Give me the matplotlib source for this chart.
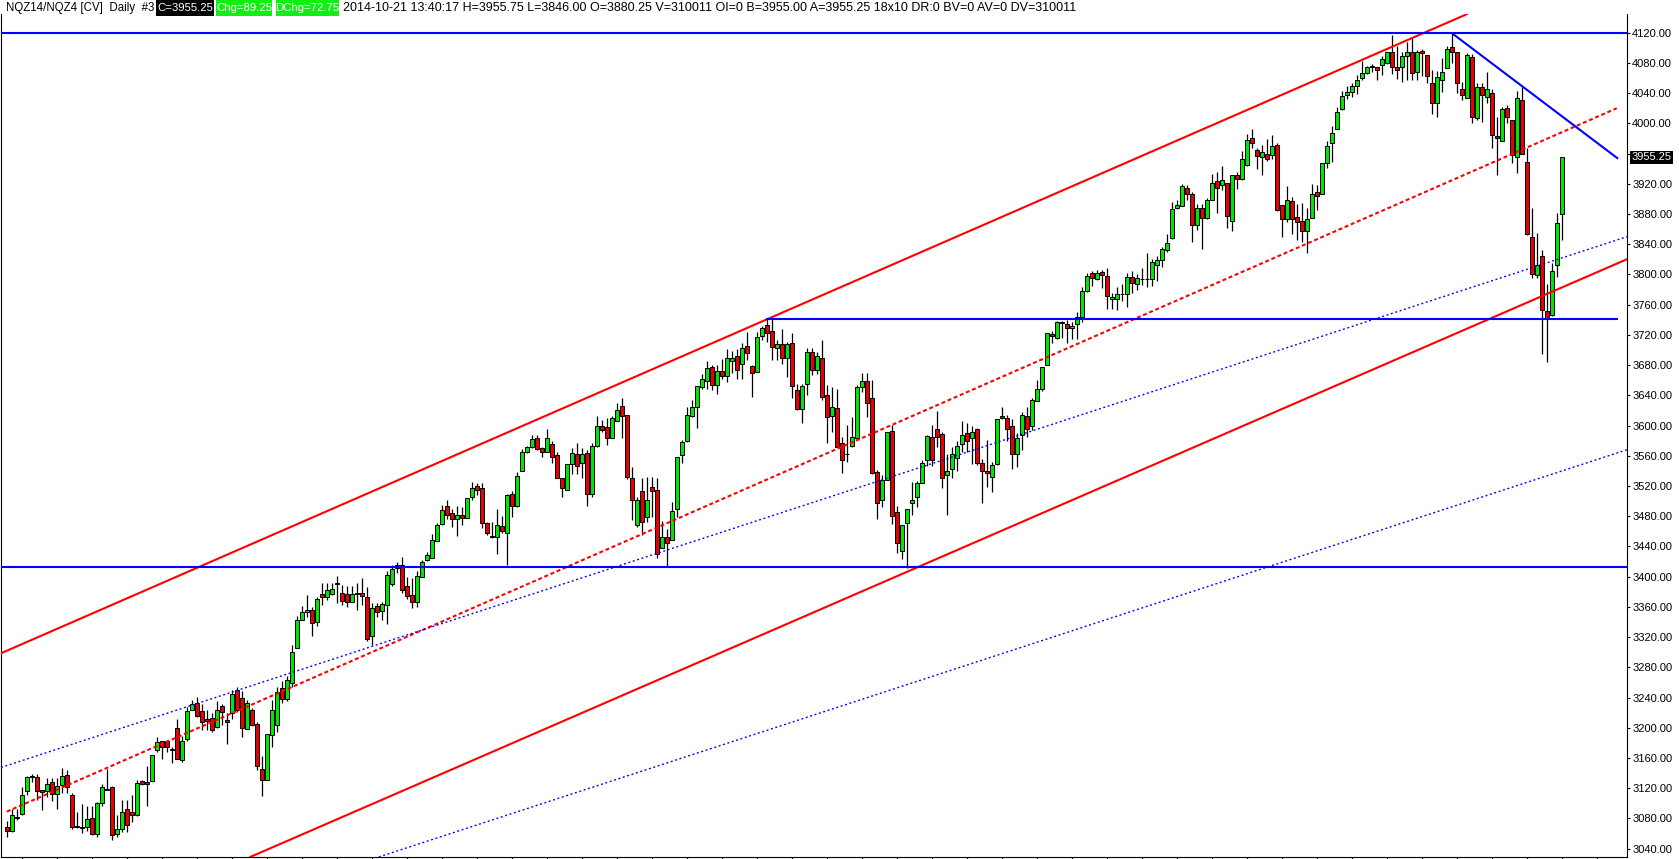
import numpy as np
import matplotlib.pyplot as plt
from matplotlib.patches import Rectangle
from matplotlib.ticker import FixedLocator, FuncFormatter

plt.rcParams['font.family'] = ['Liberation Sans', 'DejaVu Sans']

W, H = 1679, 859

##-----     DAILY BARS     -----
opens = [3069, 3064, 3082, 3086, 3116, 3135, 3135, 3117, 3116, 3128, 3112, 3124, 3137, 3111, 3070, 3069, 3069, 3080, 3060, 3101,
         3119, 3122, 3059, 3066, 3092, 3088, 3085, 3130, 3128, 3130, 3170, 3183, 3182, 3172, 3200, 3157, 3185, 3224, 3233, 3222,
         3211, 3213, 3201, 3229, 3210, 3220, 3250, 3239, 3199, 3224, 3205, 3145, 3131, 3191, 3203, 3252, 3238, 3259, 3306, 3343,
         3353, 3356, 3340, 3377, 3373, 3377, 3391, 3379, 3377, 3367, 3377, 3379, 3373, 3321, 3361, 3354, 3362, 3390, 3411, 3416,
         3388, 3376, 3367, 3400, 3422, 3425, 3447, 3470, 3494, 3484, 3476, 3482, 3477, 3505, 3520, 3517, 3471, 3454, 3453, 3467,
         3458, 3509, 3493, 3540, 3565, 3571, 3584, 3570, 3565, 3576, 3561, 3530, 3515, 3549, 3563, 3550, 3564, 3510, 3573, 3599,
         3598, 3584, 3606, 3626, 3614, 3531, 3468, 3513, 3479, 3519, 3515, 3438, 3452, 3449, 3490, 3561, 3579, 3612, 3624, 3651,
         3659, 3677, 3654, 3672, 3666, 3686, 3692, 3681, 3705, 3679, 3671, 3719, 3733, 3725, 3702, 3708, 3690, 3709, 3647, 3622,
         3655, 3697, 3674, 3690, 3641, 3613, 3623, 3577, 3562, 3573, 3583, 3651, 3659, 3636, 3539, 3502, 3528, 3593, 3485, 3434,
         3471, 3497, 3505, 3524, 3554, 3585, 3596, 3589, 3535, 3542, 3557, 3576, 3590, 3583, 3595, 3551, 3540, 3532, 3549, 3613,
         3610, 3599, 3563, 3588, 3612, 3599, 3633, 3649, 3680, 3721, 3716, 3737, 3735, 3729, 3734, 3744, 3778, 3802, 3794, 3803,
         3798, 3767, 3768, 3774, 3774, 3796, 3787, 3794, 3794, 3794, 3813, 3819, 3833, 3848, 3888, 3891, 3914, 3906, 3865, 3888,
         3875, 3899, 3924, 3918, 3921, 3871, 3932, 3926, 3945, 3980, 3965, 3955, 3960, 3958, 3971, 3892, 3873, 3897, 3876, 3871,
         3857, 3875, 3909, 3907, 3948, 3974, 3993, 4019, 4038, 4042, 4050, 4060, 4066, 4075, 4074, 4077, 4080, 4095, 4074, 4074,
         4089, 4095, 4068, 4096, 4091, 4053, 4027, 4058, 4073, 4101, 4094, 4046, 4033, 4088, 4007, 4048, 4035, 4040, 3983, 3977,
         4020, 4004, 3956, 4031, 3949, 3849, 3799, 3825, 3751, 3746, 3813, 3880.25]
highs = [3076, 3093, 3093, 3122, 3136, 3139, 3139, 3118, 3134, 3134, 3134, 3147, 3144, 3114, 3089, 3099, 3096, 3097, 3102, 3126,
         3145, 3123, 3084, 3105, 3105, 3111, 3131, 3131, 3150, 3164, 3188, 3183, 3184, 3174, 3212, 3189, 3228, 3237, 3241, 3231,
         3224, 3219, 3235, 3232, 3219, 3250, 3254, 3248, 3237, 3226, 3208, 3163, 3192, 3237, 3254, 3262, 3268, 3310, 3348, 3361,
         3376, 3360, 3373, 3392, 3391, 3391, 3401, 3389, 3388, 3388, 3391, 3398, 3386, 3365, 3365, 3366, 3407, 3415, 3420, 3426,
         3400, 3398, 3407, 3422, 3432, 3456, 3471, 3495, 3502, 3490, 3493, 3492, 3504, 3525, 3524, 3524, 3473, 3473, 3490, 3480,
         3510, 3514, 3538, 3569, 3573, 3587, 3588, 3572, 3595, 3579, 3565, 3531, 3549, 3570, 3577, 3570, 3568, 3577, 3612, 3608,
         3610, 3612, 3630, 3636, 3614, 3545, 3506, 3530, 3532, 3532, 3530, 3474, 3463, 3499, 3559, 3581, 3625, 3634, 3652, 3668,
         3686, 3680, 3680, 3688, 3701, 3699, 3701, 3709, 3724, 3680, 3724, 3732, 3741, 3741, 3713, 3728, 3711, 3723, 3655, 3655,
         3702, 3702, 3698, 3713, 3654, 3651, 3648, 3585, 3601, 3611, 3654, 3669, 3669, 3660, 3541, 3535, 3592, 3601, 3493, 3469,
         3490, 3525, 3526, 3554, 3588, 3601, 3619, 3591, 3563, 3571, 3579, 3606, 3604, 3599, 3597, 3556, 3581, 3552, 3609, 3624,
         3614, 3609, 3590, 3618, 3624, 3637, 3660, 3678, 3723, 3725, 3738, 3738, 3740, 3737, 3750, 3784, 3802, 3805, 3806, 3806,
         3808, 3775, 3784, 3787, 3802, 3805, 3800, 3808, 3829, 3821, 3824, 3837, 3853, 3896, 3899, 3920, 3918, 3909, 3893, 3893,
         3901, 3933, 3936, 3944, 3921, 3932, 3936, 3963, 3986, 3993, 3968, 3972, 3979, 3985, 3974, 3892, 3917, 3902, 3893, 3894,
         3888, 3920, 3918, 3948, 3976, 3997, 4021, 4043, 4049, 4053, 4064, 4082, 4076, 4079, 4075, 4089, 4095, 4117, 4102, 4095,
         4108, 4113, 4097, 4099, 4091, 4071, 4069, 4086, 4102, 4119, 4095, 4055, 4093, 4092, 4054, 4053, 4068, 4046, 4009, 4021,
         4024, 4005, 4043, 4048, 3967, 3888, 3855, 3833, 3787, 3815, 3881, 3955.75]
lows = [3056, 3062, 3078, 3085, 3111, 3128, 3104, 3091, 3108, 3103, 3093, 3114, 3114, 3066, 3067, 3061, 3063, 3058, 3055, 3096,
        3118, 3052, 3055, 3062, 3062, 3075, 3083, 3124, 3096, 3130, 3168, 3159, 3168, 3154, 3158, 3155, 3183, 3223, 3214, 3197,
        3197, 3195, 3200, 3203, 3178, 3212, 3221, 3188, 3199, 3202, 3144, 3110, 3131, 3175, 3195, 3233, 3235, 3254, 3306, 3342,
        3347, 3322, 3335, 3362, 3369, 3376, 3365, 3362, 3360, 3366, 3356, 3362, 3315, 3310, 3346, 3343, 3337, 3387, 3405, 3379,
        3371, 3359, 3360, 3400, 3421, 3425, 3447, 3468, 3476, 3466, 3454, 3469, 3477, 3501, 3508, 3464, 3455, 3451, 3430, 3458,
        3415, 3479, 3492, 3540, 3564, 3570, 3568, 3558, 3565, 3550, 3530, 3506, 3515, 3536, 3536, 3530, 3493, 3506, 3572, 3592,
        3574, 3584, 3606, 3583, 3529, 3475, 3466, 3455, 3473, 3479, 3425, 3438, 3413, 3448, 3479, 3551, 3578, 3611, 3597, 3649,
        3648, 3647, 3642, 3662, 3657, 3670, 3662, 3662, 3687, 3638, 3671, 3713, 3711, 3687, 3687, 3682, 3664, 3637, 3621, 3603,
        3641, 3667, 3668, 3634, 3577, 3592, 3571, 3537, 3552, 3572, 3583, 3645, 3611, 3536, 3476, 3492, 3528, 3470, 3431, 3424,
        3412, 3481, 3492, 3524, 3547, 3547, 3572, 3518, 3482, 3531, 3540, 3565, 3565, 3549, 3548, 3498, 3519, 3512, 3548, 3609,
        3580, 3542, 3545, 3568, 3585, 3594, 3632, 3646, 3680, 3709, 3715, 3716, 3709, 3715, 3715, 3737, 3777, 3785, 3793, 3782,
        3754, 3754, 3753, 3765, 3757, 3776, 3780, 3786, 3783, 3785, 3791, 3810, 3830, 3847, 3887, 3891, 3898, 3843, 3859, 3834,
        3873, 3899, 3882, 3912, 3862, 3857, 3913, 3925, 3944, 3967, 3940, 3932, 3950, 3953, 3884, 3850, 3870, 3854, 3845, 3843,
        3829, 3875, 3885, 3906, 3941, 3949, 3993, 4018, 4032, 4035, 4039, 4058, 4065, 4068, 4057, 4064, 4078, 4065, 4059, 4055,
        4057, 4057, 4057, 4063, 4053, 4012, 4008, 4042, 4073, 4080, 4040, 4031, 4033, 4001, 4005, 4002, 4027, 3968, 3932, 3976,
        4000, 3947, 3934, 3960, 3852, 3795, 3795, 3695, 3684, 3745, 3797, 3846.00]
closes = [3063, 3085, 3080, 3111, 3135, 3135, 3116, 3115, 3126, 3112, 3123, 3136, 3122, 3069, 3068, 3067, 3079, 3060, 3100, 3121,
          3118, 3058, 3066, 3088, 3071, 3084, 3127, 3126, 3126, 3164, 3181, 3174, 3174, 3171, 3159, 3183, 3222, 3231, 3215, 3207,
          3209, 3197, 3224, 3221, 3207, 3245, 3224, 3200, 3233, 3203, 3149, 3131, 3192, 3224, 3247, 3238, 3263, 3300, 3342, 3353,
          3356, 3339, 3370, 3373, 3382, 3384, 3390, 3368, 3367, 3377, 3379, 3375, 3318, 3359, 3353, 3364, 3402, 3410, 3416, 3382,
          3375, 3366, 3401, 3419, 3429, 3448, 3468, 3488, 3482, 3476, 3482, 3478, 3504, 3518, 3515, 3471, 3458, 3452, 3469, 3460,
          3508, 3493, 3533, 3565, 3571, 3582, 3569, 3565, 3584, 3559, 3531, 3518, 3549, 3564, 3547, 3562, 3509, 3573, 3599, 3594,
          3584, 3610, 3621, 3613, 3532, 3502, 3501, 3473, 3502, 3514, 3430, 3452, 3445, 3487, 3558, 3578, 3614, 3624, 3652, 3661,
          3676, 3654, 3672, 3665, 3689, 3689, 3674, 3702, 3696, 3670, 3717, 3729, 3722, 3704, 3708, 3689, 3708, 3652, 3622, 3652,
          3697, 3674, 3692, 3638, 3611, 3624, 3572, 3554, 3563, 3585, 3651, 3659, 3630, 3537, 3498, 3528, 3591, 3480, 3444, 3469,
          3490, 3501, 3524, 3551, 3586, 3554, 3585, 3530, 3540, 3563, 3573, 3588, 3579, 3592, 3551, 3540, 3537, 3548, 3609, 3610,
          3596, 3563, 3584, 3614, 3596, 3634, 3648, 3677, 3722, 3718, 3737, 3736, 3729, 3732, 3744, 3778, 3798, 3795, 3802, 3799,
          3772, 3770, 3774, 3774, 3796, 3789, 3795, 3794, 3794, 3816, 3819, 3834, 3842, 3886, 3892, 3917, 3906, 3865, 3888, 3875,
          3899, 3921, 3914, 3925, 3877, 3932, 3927, 3953, 3978, 3974, 3957, 3962, 3953, 3970, 3885, 3874, 3899, 3873, 3870, 3858,
          3874, 3907, 3904, 3947, 3970, 3987, 4015, 4036, 4042, 4049, 4057, 4066, 4074, 4075, 4071, 4085, 4094, 4074, 4071, 4089,
          4095, 4067, 4095, 4093, 4063, 4027, 4061, 4068, 4099, 4095, 4054, 4038, 4091, 4009, 4048, 4038, 4046, 3985, 3980, 4019,
          4009, 3958, 4033, 3960, 3853, 3800, 3813, 3753, 3742, 3805, 3868, 3955.25]

##-----     DRAWN STUDY LINES (bar index, price)     -----
chan_upper_x, chan_upper_y = [-1.26, 291.9], [3298.6, 4144.5]
chan_mid_x, chan_mid_y = [-0.1, 321.9], [3089.0, 4020.0]
chan_lower_x, chan_lower_y = [48.6, 323.94], [3029.0, 3820.2]
dot_upper_x, dot_upper_y = [-1.26, 323.94], [3147.4, 3850.0]
dot_lower_x, dot_lower_y = [74.3, 323.94], [3029.0, 3568.0]
diag_x, diag_y = [289, 322], [4119.0, 3954.0]
hline_top = 4119.0
hline_low = 3413.0
hline_mid, hline_mid_x = 3741.5, [152, 322]

yticks = np.arange(3040, 4121, 40)
last_price = 3955.25

# header pieces: (text, box colour)
hdr_boxes = [('C=3955.25', 'black'), ('Chg=89.25', '#11ee11'), ('DChg=72.75', '#11ee11')]
hdr_box_x = [(156, 214), (216, 272), (276, 339)]

##-----     FIGURE     -----
fig = plt.figure(figsize=(W / 100, H / 100), dpi=100)
ax = fig.add_axes([1 / W, 2 / H, 1626 / W, 843 / H])
ax.set_xlim(-1.26, 323.94)
ax.set_ylim(3028.94, 4144.75)

o = np.array(opens, float)
hi = np.array(highs, float)
lo = np.array(lows, float)
c = np.array(closes, float)
idx = np.arange(len(o))
up = c >= o
body_col = np.where(up, '#00e600', '#e60000')
bottom = np.minimum(o, c)
height = np.maximum(np.abs(c - o), 0.6)

ax.vlines(idx, lo, hi, color='black', lw=0.9, zorder=2)
ax.bar(idx, height, bottom=bottom, width=0.8, color=body_col,
       edgecolor='black', linewidth=0.7, zorder=3)

red, blue = '#ff0000', '#0000ff'
ax.plot(chan_upper_x, chan_upper_y, color=red, lw=1.5, zorder=4)
ax.plot(chan_lower_x, chan_lower_y, color=red, lw=1.5, zorder=4)
ax.plot(chan_mid_x, chan_mid_y, color=red, lw=1.5, dashes=(1.9, 1.3), zorder=4)
ax.plot(dot_upper_x, dot_upper_y, color=blue, lw=1.0, dashes=(1.4, 1.9), zorder=4)
ax.plot(dot_lower_x, dot_lower_y, color=blue, lw=1.0, dashes=(1.4, 1.9), zorder=4)
ax.plot(diag_x, diag_y, color=blue, lw=1.5, zorder=4)
ax.axhline(hline_top, color=blue, lw=1.5, zorder=4)
ax.axhline(hline_low, color=blue, lw=1.5, zorder=4)
ax.plot(hline_mid_x, [hline_mid, hline_mid], color=blue, lw=1.5, zorder=4)

# axes look
ax.spines['top'].set_visible(False)
for s in ('left', 'right', 'bottom'):
    ax.spines[s].set_linewidth(0.8)
ax.yaxis.tick_right()
ax.yaxis.set_major_locator(FixedLocator(yticks))
ax.yaxis.set_major_formatter(FuncFormatter(
    lambda v, p: '' if abs(v - 3960) < 1 else '%.2f' % v))
ax.tick_params(axis='y', direction='out', length=2.2, width=0.8, pad=1.5,
               labelsize=8, colors='black')
ax.xaxis.set_major_locator(FixedLocator(np.arange(3, 325, 7)))
ax.tick_params(axis='x', direction='out', length=1.5, width=0.8, labelbottom=False)

# last price marker on the scale
ax.text(1.0028, last_price, '%.2f' % last_price, transform=ax.get_yaxis_transform(),
        color='white', fontsize=8, va='center', ha='left', clip_on=False, zorder=10,
        bbox=dict(facecolor='black', edgecolor='none', pad=1.2))

# header line
hy = 1 - 8 / H
fig.text(5.5 / W, hy, 'NQZ14/NQZ4 [CV]  Daily  #3', fontsize=8.3, va='center')
for (txt, col), (x0, x1) in zip(hdr_boxes, hdr_box_x):
    fig.patches.append(Rectangle((x0 / W, 1 - 16 / H), (x1 - x0) / W, 16 / H,
                                 transform=fig.transFigure, facecolor=col,
                                 edgecolor='none', zorder=1))
    fig.text((x0 + x1) / 2 / W, hy, txt, fontsize=8.2, va='center', ha='center',
             color='white', zorder=2)
fig.text(343 / W, hy, '2014-10-21 13:40:17 H=3955.75 L=3846.00 O=3880.25 V=310011 OI=0 '
         'B=3955.00 A=3955.25 18x10 DR:0 BV=0 AV=0 DV=310011', fontsize=9, va='center')

fig.savefig('out.png', dpi=100)
